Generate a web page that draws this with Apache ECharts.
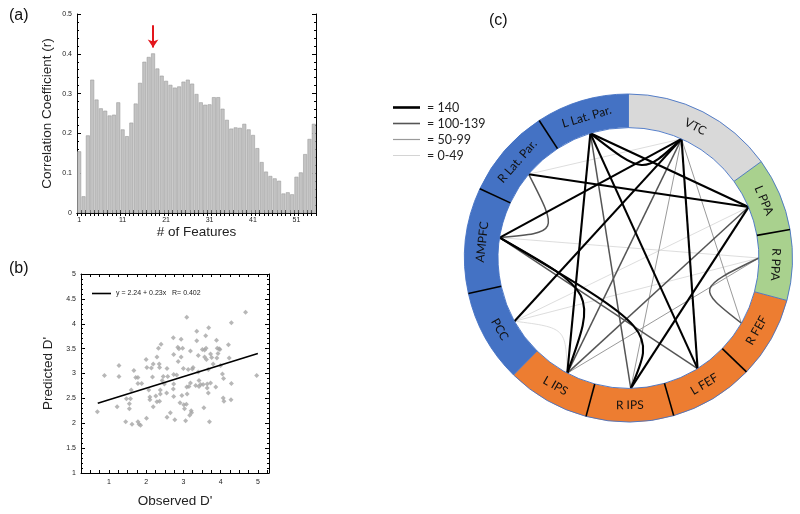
<!DOCTYPE html>
<html><head><meta charset="utf-8">
<script src="https://cdn.jsdelivr.net/npm/echarts@6/dist/echarts.min.js"></script>
<style>html,body{margin:0;padding:0;background:#fff}#c{width:800px;height:514px}</style>
</head><body><div id="c"></div>
<script>
// ---------- (a) correlation vs number of features ----------
const featureCounts = Array.from({length: 55}, (_, i) => String(i + 1));
const corrValues = [0.155,0.042,0.195,0.335,0.285,0.263,0.257,0.245,0.247,0.278,
  0.210,0.193,0.227,0.275,0.327,0.380,0.392,0.401,0.363,0.345,
  0.332,0.322,0.315,0.318,0.330,0.335,0.325,0.299,0.278,0.272,
  0.273,0.291,0.291,0.262,0.234,0.212,0.215,0.214,0.224,0.210,
  0.196,0.163,0.128,0.104,0.093,0.087,0.081,0.049,0.052,0.047,
  0.091,0.102,0.148,0.186,0.224];
const peakFeature = '18';
const arrowFrom = 0.472;
const arrowTo = 0.416;

// ---------- (b) observed vs predicted D' ----------
const observedD = [0.69,0.88,1.22,1.27,1.27,1.45,1.47,1.55,1.55,1.58,1.60,1.62,1.67,1.72,1.78,1.78,1.78,1.81,1.85,1.88,
  2.00,2.01,2.02,2.07,2.10,2.10,2.14,2.17,2.19,2.19,2.26,2.29,2.29,2.33,2.35,2.36,2.36,2.38,2.40,2.38,
  2.43,2.46,2.49,2.55,2.56,2.56,2.58,2.65,2.73,2.74,2.74,2.74,2.73,2.74,2.77,2.82,2.86,2.85,2.88,2.91,
  2.94,2.94,2.96,2.98,3.00,3.01,3.03,3.06,3.08,3.09,3.09,3.10,3.13,3.15,3.17,3.19,3.19,3.21,3.22,3.24,
  3.26,3.33,3.36,3.36,3.40,3.40,3.42,3.42,3.46,3.51,3.53,3.55,3.57,3.57,3.60,3.61,3.62,3.64,3.64,3.67,
  3.68,3.67,3.70,3.73,3.73,3.76,3.80,3.87,3.89,3.90,3.91,3.93,3.96,3.98,4.00,4.05,4.07,4.08,4.09,4.21,
  4.23,4.28,4.29,4.29,4.67,4.97];
const predictedD = [2.23,2.96,2.33,3.16,2.94,2.03,2.49,2.39,2.29,2.49,2.67,1.98,3.06,2.92,2.92,2.80,2.03,1.98,1.96,2.80,
  3.28,2.10,3.12,2.67,2.53,2.47,3.11,2.93,3.19,2.33,2.55,2.43,3.33,3.51,3.19,3.12,2.44,2.67,3.59,2.59,
  2.86,2.94,2.79,2.61,3.10,2.12,2.94,2.21,3.72,3.38,2.98,2.79,2.69,2.54,2.07,2.97,3.24,3.53,3.50,2.41,
  3.33,3.69,2.56,3.51,3.10,2.37,2.29,2.05,2.38,4.13,2.73,2.59,3.08,2.74,2.16,3.45,2.81,2.25,2.21,3.09,
  3.12,2.76,3.85,3.66,3.36,3.03,2.86,2.74,2.78,3.48,2.78,2.31,3.47,3.33,3.76,3.51,3.28,2.79,2.71,2.61,
  3.92,3.08,2.03,3.39,2.81,3.32,3.19,2.73,3.67,3.31,3.51,3.40,3.50,3.48,3.16,2.99,2.51,2.90,2.44,3.58,
  3.31,2.47,4.02,2.80,4.23,2.96];
const fitLineX = [0.70, 5.00];
const fitLineY = [2.40, 3.40];
const fitLabel = 'y = 2.24 + 0.23x   R= 0.402';

// ---------- (c) connectivity ring ----------
const regionNames = ['VTC','L PPA','R PPA','R FEF','L FEF','R IPS','L IPS','PCC','AMPFC','R Lat. Par.','L Lat. Par.'];
const regionSpans = [54, 26, 25, 29, 30, 31, 29.5, 33, 37.5, 32, 33];   // degrees, clockwise from 12 o'clock
const regionGroup = ['vtc','ppa','ppa','fef','fef','fef','fef','dmn','dmn','dmn','dmn'];
const nodeAngles = [24, 67, 90, 120, 148, 179, 208, 241, 279, 310, 343];
// [from, to, weight class (0: 140, 1: 100-139, 2: 50-99, 3: 0-49), bend angle, bend depth]
const links = [
  [10, 0, 0, 10, 0.65], [10, 1, 0], [10, 6, 0], [10, 4, 0], [9, 1, 0],
  [0, 8, 0], [0, 7, 0], [0, 4, 0], [1, 5, 0],
  [8, 6, 0, 223, 0.36], [8, 5, 0, 159, 0.59],
  [9, 8, 1, 290, 0.57], [2, 3, 1, 114, 0.57], [10, 5, 1], [8, 4, 1], [0, 6, 1], [1, 6, 1],
  [0, 3, 2], [0, 5, 2], [2, 6, 2],
  [9, 0, 3], [7, 1, 3], [7, 6, 3, 222, 0.72], [7, 2, 3], [8, 2, 3]
];
const weightLabels = ['= 140', '= 100-139', '= 50-99', '= 0-49'];

// ---------- styles ----------
const FONT = '"Liberation Sans", Arial, sans-serif';
const CFONT = 'Lato, "Open Sans", sans-serif';
const groupColors = {vtc: '#D9D9D9', ppa: '#A9D18E', fef: '#ED7D31', dmn: '#4472C4'};
const linkColors = ['#000000', '#555555', '#9a9a9a', '#d4d4d4'];
const linkWidths = [2.1, 1.5, 1.0, 0.8];
const legendWidths = [2.6, 1.6, 1.2, 1.0];
const INNER = 0.795;

function polar(angleDeg, r) {
  const a = angleDeg * Math.PI / 180;
  return [r * Math.sin(a), r * Math.cos(a)];
}
const cumStart = [];
regionSpans.reduce((acc, s) => { cumStart.push(acc); return acc + s; }, 0);

function renderRing(params, api) {
  const i = params.dataIndex;
  const n = regionNames.length;
  const c = api.coord([0, 0]);
  const R = api.size([1, 0])[0];
  const r0 = R * INNER;
  const a0 = cumStart[i], a1 = cumStart[i] + regionSpans[i];
  const rad = d => (d - 90) * Math.PI / 180;
  const children = [];
  children.push({type: 'sector', shape: {cx: c[0], cy: c[1], r0: r0, r: R, startAngle: rad(a0), endAngle: rad(a1), clockwise: true},
    style: {fill: groupColors[regionGroup[i]]}});
  children.push({type: 'arc', shape: {cx: c[0], cy: c[1], r: R, startAngle: rad(a0), endAngle: rad(a1), clockwise: true},
    style: {stroke: '#4472C4', lineWidth: 0.9, fill: null}});
  children.push({type: 'arc', shape: {cx: c[0], cy: c[1], r: r0, startAngle: rad(a0), endAngle: rad(a1), clockwise: true},
    style: {stroke: '#4472C4', lineWidth: 0.9, fill: null}});
  const prev = (i - 1 + n) % n;
  const same = regionGroup[prev] === regionGroup[i];
  const q0 = api.coord(polar(a0, INNER)), q1 = api.coord(polar(a0, 1));
  children.push({type: 'line', shape: {x1: q0[0], y1: q0[1], x2: q1[0], y2: q1[1]},
    style: {stroke: same ? '#000' : '#4472C4', lineWidth: same ? 1.6 : 0.9}});
  const mid = (a0 + a1) / 2;
  const p = api.coord(polar(mid, (INNER + 1) / 2));
  const rotDeg = (mid > 100 && mid < 260) ? -(mid - 180) : -mid;
  children.push({type: 'text', x: p[0], y: p[1], rotation: rotDeg * Math.PI / 180,
    style: {text: regionNames[i], font: '12px ' + CFONT, fill: '#111', align: 'center', verticalAlign: 'middle'}});
  return {type: 'group', children: children};
}

const linkOrder = links.map((l, i) => i).sort((x, y) => links[y][2] - links[x][2]);
function renderLink(params, api) {
  const L = links[linkOrder[params.dataIndex]];
  const p0 = api.coord(polar(nodeAngles[L[0]], INNER));
  const p1 = api.coord(polar(nodeAngles[L[1]], INNER));
  const style = {stroke: linkColors[L[2]], lineWidth: linkWidths[L[2]], fill: null};
  if (L[3] == null) {
    return {type: 'line', shape: {x1: p0[0], y1: p0[1], x2: p1[0], y2: p1[1]}, style: style};
  }
  const q = api.coord(polar(L[3], L[4] * INNER));
  return {type: 'bezierCurve', shape: {x1: p0[0], y1: p0[1], x2: p1[0], y2: p1[1], cpx1: q[0], cpy1: q[1], cpx2: q[0], cpy2: q[1]}, style: style};
}

const axisLineBlack = {show: true, lineStyle: {color: '#000', width: 1}};
const tickLbl = {fontSize: 7, color: '#222', fontFamily: FONT};
const nameStyle = {fontSize: 13.5, color: '#222', fontFamily: FONT};

const legendGraphics = [];
weightLabels.forEach((t, i) => {
  const y = 107.5 + i * 16;
  legendGraphics.push({type: 'line', shape: {x1: 393, y1: y, x2: 420, y2: y}, style: {stroke: linkColors[i], lineWidth: legendWidths[i]}});
  legendGraphics.push({type: 'text', x: 427, y: y, style: {text: t, font: '12.5px ' + CFONT, fill: '#222', verticalAlign: 'middle'}});
});

const chart = echarts.init(document.getElementById('c'), null, {renderer: 'canvas'});
chart.setOption({
  animation: false,
  backgroundColor: '#fff',
  title: [
    {text: '(a)', left: 4, top: 3, textStyle: {fontSize: 16, fontWeight: 'normal', color: '#111', fontFamily: FONT}},
    {text: '(b)', left: 4, top: 256, textStyle: {fontSize: 16, fontWeight: 'normal', color: '#111', fontFamily: FONT}},
    {text: '(c)', left: 484, top: 8, textStyle: {fontSize: 16, fontWeight: 'normal', color: '#111', fontFamily: FONT}}
  ],
  legend: {
    data: [{name: fitLabel, icon: 'rect'}], left: 87, top: 285, itemWidth: 19, itemHeight: 1.6, itemGap: 4,
    textStyle: {fontSize: 7, color: '#222', fontFamily: FONT}
  },
  grid: [
    {left: 77, top: 14, width: 239, height: 199},
    {left: 81, top: 274, width: 188, height: 199},
    {left: 464.5, top: 94, width: 328, height: 328}
  ],
  xAxis: [
    {gridIndex: 0, type: 'category', data: featureCounts, boundaryGap: true,
      name: '# of Features', nameLocation: 'middle', nameGap: 12, nameTextStyle: nameStyle,
      axisLine: axisLineBlack, axisTick: {show: true, inside: true, interval: 0, length: 3, lineStyle: {color: '#000'}},
      axisLabel: Object.assign({interval: 9, margin: 4}, tickLbl), splitLine: {show: false}},
    {gridIndex: 0, type: 'category', data: featureCounts, position: 'top', boundaryGap: true,
      axisLine: axisLineBlack, axisTick: {show: true, inside: true, interval: 0, length: 3, lineStyle: {color: '#000'}},
      axisLabel: {show: false}, splitLine: {show: false}},
    {gridIndex: 1, type: 'value', min: 0.25, max: 5.3, interval: 0.25,
      name: "Observed D'", nameLocation: 'middle', nameGap: 21, nameTextStyle: nameStyle,
      axisLine: axisLineBlack, axisTick: {show: true, inside: true, length: 3, lineStyle: {color: '#000'}},
      axisLabel: Object.assign({margin: 6, formatter: v => Math.abs(v - Math.round(v)) < 1e-6 ? String(Math.round(v)) : ''}, tickLbl),
      splitLine: {show: false}},
    {gridIndex: 1, type: 'value', min: 0.25, max: 5.3, interval: 0.25, position: 'top',
      axisLine: axisLineBlack, axisTick: {show: true, inside: true, length: 3, lineStyle: {color: '#000'}},
      axisLabel: {show: false}, splitLine: {show: false}},
    {gridIndex: 2, type: 'value', min: -1, max: 1, show: false}
  ],
  yAxis: [
    {gridIndex: 0, type: 'value', min: 0, max: 0.5, interval: 0.1,
      name: 'Correlation Coefficient (r)', nameLocation: 'middle', nameGap: 23, nameTextStyle: nameStyle,
      axisLine: axisLineBlack, axisTick: {show: true, inside: true, length: 4, lineStyle: {color: '#000'}},
      minorTick: {show: true, splitNumber: 5, length: 2, lineStyle: {color: '#000'}},
      axisLabel: Object.assign({margin: 5}, tickLbl), splitLine: {show: false}, minorSplitLine: {show: false}},
    {gridIndex: 0, type: 'value', min: 0, max: 0.5, interval: 0.1, position: 'right',
      axisLine: axisLineBlack, axisTick: {show: true, inside: true, length: 4, lineStyle: {color: '#000'}},
      minorTick: {show: true, splitNumber: 5, length: 2, lineStyle: {color: '#000'}},
      axisLabel: {show: false}, splitLine: {show: false}},
    {gridIndex: 1, type: 'value', min: 1, max: 5, interval: 0.5,
      name: "Predicted D'", nameLocation: 'middle', nameGap: 26, nameTextStyle: nameStyle,
      axisLine: axisLineBlack, axisTick: {show: true, inside: true, length: 4, lineStyle: {color: '#000'}},
      minorTick: {show: true, splitNumber: 5, length: 2, lineStyle: {color: '#000'}},
      axisLabel: Object.assign({margin: 5}, tickLbl), splitLine: {show: false}},
    {gridIndex: 1, type: 'value', min: 1, max: 5, interval: 0.5, position: 'right',
      axisLine: axisLineBlack, axisTick: {show: true, inside: true, length: 4, lineStyle: {color: '#000'}},
      minorTick: {show: true, splitNumber: 5, length: 2, lineStyle: {color: '#000'}},
      axisLabel: {show: false}, splitLine: {show: false}},
    {gridIndex: 2, type: 'value', min: -1, max: 1, show: false}
  ],
  graphic: legendGraphics,
  series: [
    {type: 'bar', xAxisIndex: 0, yAxisIndex: 0, data: corrValues, barCategoryGap: '10%',
      itemStyle: {color: '#c3c3c3', borderColor: '#9c9c9c', borderWidth: 0.6},
      markLine: {silent: true, symbol: ['none', 'arrow'], symbolSize: 8,
        lineStyle: {color: '#e3161c', width: 2, type: 'solid'}, label: {show: false},
        data: [[{coord: [peakFeature, arrowFrom]}, {coord: [peakFeature, arrowTo]}]]}},
    {type: 'scatter', xAxisIndex: 2, yAxisIndex: 2, symbol: 'diamond', symbolSize: 5,
      itemStyle: {color: '#a5a5a5'}, data: observedD.map((x, i) => [x, predictedD[i]])},
    {type: 'line', name: fitLabel, xAxisIndex: 2, yAxisIndex: 2, symbol: 'none',
      lineStyle: {color: '#000', width: 1.6}, itemStyle: {color: '#000'},
      data: fitLineX.map((x, i) => [x, fitLineY[i]])},
    {type: 'custom', xAxisIndex: 4, yAxisIndex: 4, clip: false, renderItem: renderLink,
      data: linkOrder.map(() => [0, 0])},
    {type: 'custom', xAxisIndex: 4, yAxisIndex: 4, clip: false, renderItem: renderRing,
      data: regionNames.map(() => [0, 0])}
  ]
});
</script></body></html>
